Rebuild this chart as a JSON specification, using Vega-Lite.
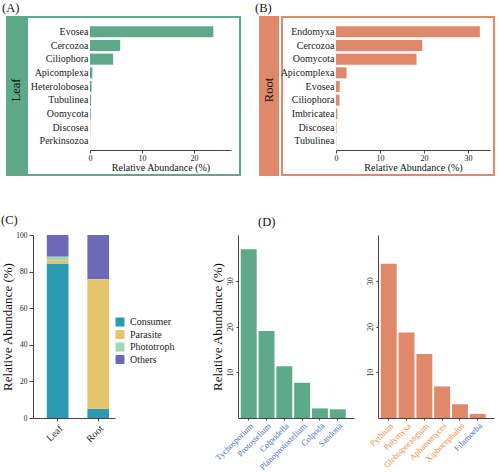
{
  "$schema": "https://vega.github.io/schema/vega-lite/v6.json",
  "padding": {"left": 1, "top": 1, "right": 0, "bottom": 0},
  "config": {
    "font": "Liberation Serif",
    "view": {"stroke": null},
    "axis": {"labelFont": "Liberation Serif", "titleFont": "Liberation Serif", "domainColor": "#444444", "tickColor": "#444444", "labelColor": "#222222", "titleColor": "#111111", "grid": false, "titleFontWeight": "normal", "labelFlush": false},
    "legend": {"labelFont": "Liberation Serif", "titleFont": "Liberation Serif"},
    "title": {"font": "Liberation Serif", "fontWeight": "normal", "fontSize": 12.5, "anchor": "start", "color": "#111111", "frame": "group"}
  },
  "datasets": {
    "phylaLeaf": [
      {"phylum": "Evosea", "abundance": 23.7},
      {"phylum": "Cercozoa", "abundance": 5.8},
      {"phylum": "Ciliophora", "abundance": 4.45},
      {"phylum": "Apicomplexa", "abundance": 0.45},
      {"phylum": "Heterolobosea", "abundance": 0.3},
      {"phylum": "Tubulinea", "abundance": 0.2},
      {"phylum": "Oomycota", "abundance": 0.15},
      {"phylum": "Discosea", "abundance": 0.05},
      {"phylum": "Perkinsozoa", "abundance": 0.02}
    ],
    "phylaRoot": [
      {"phylum": "Endomyxa", "abundance": 32.7},
      {"phylum": "Cercozoa", "abundance": 19.6},
      {"phylum": "Oomycota", "abundance": 18.3},
      {"phylum": "Apicomplexa", "abundance": 2.4},
      {"phylum": "Evosea", "abundance": 0.85},
      {"phylum": "Ciliophora", "abundance": 0.8},
      {"phylum": "Imbricatea", "abundance": 0.3},
      {"phylum": "Discosea", "abundance": 0.12},
      {"phylum": "Tubulinea", "abundance": 0.06}
    ],
    "guild": [
      {"tissue": "Leaf", "group": "Consumer", "rank": 1, "abundance": 84.2},
      {"tissue": "Leaf", "group": "Parasite", "rank": 2, "abundance": 2.0},
      {"tissue": "Leaf", "group": "Phototroph", "rank": 3, "abundance": 2.1},
      {"tissue": "Leaf", "group": "Others", "rank": 4, "abundance": 11.7},
      {"tissue": "Root", "group": "Consumer", "rank": 1, "abundance": 5.1},
      {"tissue": "Root", "group": "Parasite", "rank": 2, "abundance": 70.7},
      {"tissue": "Root", "group": "Phototroph", "rank": 3, "abundance": 0.2},
      {"tissue": "Root", "group": "Others", "rank": 4, "abundance": 24.0}
    ],
    "genusLeaf": [
      {"genus": "Tychosporium", "abundance": 36.9},
      {"genus": "Protostelium", "abundance": 19.0},
      {"genus": "Colpodella", "abundance": 11.3},
      {"genus": "Planoprotostelium", "abundance": 7.7},
      {"genus": "Colpoda", "abundance": 2.1},
      {"genus": "Sandona", "abundance": 1.9}
    ],
    "genusRoot": [
      {"genus": "Pythium", "abundance": 33.7},
      {"genus": "Polymyxa", "abundance": 18.7},
      {"genus": "Globisporangium", "abundance": 14.0},
      {"genus": "Aphanomyces", "abundance": 6.9},
      {"genus": "Xiphocephalus", "abundance": 3.0},
      {"genus": "Filamoeba", "abundance": 0.9}
    ]
  },
  "spacing": 37,
  "resolve": {"legend": {"color": "independent"}},
  "vconcat": [
    {
      "spacing": 14,
      "hconcat": [
        {
          "title": {"text": "(A)", "dx": -5, "offset": 2},
          "spacing": 0,
          "hconcat": [
            {
              "width": 18, "height": 158,
              "view": {"fill": "#5DA98A", "stroke": "#5DA98A", "strokeWidth": 2},
              "data": {"values": [{"panel": "Leaf"}]},
              "mark": {"type": "text", "angle": 270, "fontSize": 12.5, "dx": 6, "color": "#111111"},
              "encoding": {"text": {"field": "panel"}}
            },
            {
              "width": 213, "height": 158,
              "view": {"stroke": "#5DA98A", "strokeWidth": 2},
              "data": {"name": "phylaLeaf"},
              "mark": {"type": "bar", "color": "#5DA98A"},
              "encoding": {
                "y": {"field": "phylum", "type": "nominal", "sort": null,
                      "scale": {"range": [8, 131], "paddingInner": 0.19, "paddingOuter": 0.095},
                      "axis": {"title": null, "offset": -63, "domain": false, "ticks": false, "labelFontSize": 10, "labelPadding": 2}},
                "x": {"field": "abundance", "type": "quantitative",
                      "scale": {"domain": [0, 27.1], "range": [63, 204], "nice": false},
                      "axis": {"values": [0, 10, 20], "title": "Relative Abundance (%)", "offset": -25, "tickSize": 3, "labelFontSize": 8, "labelPadding": 1, "titleFontSize": 10, "titlePadding": 0}}
              }
            }
          ]
        },
        {
          "title": {"text": "(B)", "dx": -5, "offset": 2},
          "spacing": 0,
          "hconcat": [
            {
              "width": 18, "height": 158,
              "view": {"fill": "#E0896A", "stroke": "#E0896A", "strokeWidth": 2},
              "data": {"values": [{"panel": "Root"}]},
              "mark": {"type": "text", "angle": 270, "fontSize": 12.5, "dx": 6, "color": "#111111"},
              "encoding": {"text": {"field": "panel"}}
            },
            {
              "width": 212, "height": 158,
              "view": {"stroke": "#E0896A", "strokeWidth": 2},
              "data": {"name": "phylaRoot"},
              "mark": {"type": "bar", "color": "#E0896A"},
              "encoding": {
                "y": {"field": "phylum", "type": "nominal", "sort": null,
                      "scale": {"range": [8, 131], "paddingInner": 0.19, "paddingOuter": 0.095},
                      "axis": {"title": null, "offset": -54, "domain": false, "ticks": false, "labelFontSize": 10, "labelPadding": 2}},
                "x": {"field": "abundance", "type": "quantitative",
                      "scale": {"domain": [0, 35], "range": [54, 208], "nice": false},
                      "axis": {"values": [0, 10, 20, 30], "title": "Relative Abundance (%)", "offset": -25, "tickSize": 3, "labelFontSize": 8, "labelPadding": 1, "titleFontSize": 10, "titlePadding": 0}}
              }
            }
          ]
        }
      ]
    },
    {
      "spacing": 36,
      "resolve": {"legend": {"color": "independent"}},
      "hconcat": [
        {
          "title": {"text": "(C)", "dx": -6, "offset": 5},
          "spacing": -7,
          "resolve": {"legend": {"color": "independent"}},
          "hconcat": [
            {
              "width": 1, "height": 1,
              "data": {"values": []},
              "mark": {"type": "text"},
              "encoding": {}
            },
            {
              "width": 82, "height": 183,
              "data": {"name": "guild"},
              "mark": {"type": "bar"},
              "encoding": {
                "x": {"field": "tissue", "type": "nominal",
                      "scale": {"paddingInner": 0.465, "paddingOuter": 0.243, "align": 0.7},
                      "axis": {"title": null, "labelAngle": -45, "labelAlign": "right", "labelBaseline": "top", "labelFontSize": 10, "tickSize": 3}},
                "y": {"field": "abundance", "type": "quantitative", "stack": "zero",
                      "scale": {"domain": [0, 100], "nice": false},
                      "axis": {"values": [0, 20, 40, 60, 80, 100], "title": "Relative Abundance (%)", "titleFontSize": 13, "labelFontSize": 7.5, "tickSize": 4, "labelPadding": 2, "titlePadding": 1}},
                "color": {"field": "group", "type": "nominal",
                          "scale": {"domain": ["Consumer", "Parasite", "Phototroph", "Others"], "range": ["#2A9BB0", "#E3C46A", "#A2D4B8", "#6C6AB8"]},
                          "legend": {"title": null, "orient": "none", "legendX": 82, "legendY": 82, "symbolType": "square", "symbolSize": 81, "symbolStrokeWidth": 0, "labelFontSize": 10, "labelOffset": 5, "rowPadding": 2.5, "padding": 0, "labelColor": "#222222"}},
                "order": {"field": "rank", "type": "quantitative", "sort": "ascending"}
              }
            }
          ]
        },
        {
          "title": {"text": "(D)", "dx": 20, "offset": 7},
          "spacing": 12,
          "hconcat": [
            {
              "width": 116, "height": 183,
              "data": {"name": "genusLeaf"},
              "mark": {"type": "bar", "color": "#5DA98A"},
              "encoding": {
                "x": {"field": "genus", "type": "nominal", "sort": null,
                      "scale": {"paddingInner": 0.105, "paddingOuter": 0.31, "align": 0.25},
                      "axis": {"title": null, "labelAngle": -45, "labelAlign": "right", "labelBaseline": "top", "labelFontSize": 8.5, "labelPadding": 1, "labelColor": "#4A74BF", "tickSize": 2}},
                "y": {"field": "abundance", "type": "quantitative",
                      "scale": {"domain": [0, 40], "nice": false},
                      "axis": {"values": [10, 20, 30], "title": "Relative Abundance (%)", "titleFontSize": 13, "labelFontSize": 8, "labelAngle": -90, "labelAlign": "center", "labelBaseline": "bottom", "tickSize": 2, "titlePadding": 2}}
              }
            },
            {
              "width": 116, "height": 183,
              "data": {"name": "genusRoot"},
              "mark": {"type": "bar", "color": "#E0896A"},
              "encoding": {
                "x": {"field": "genus", "type": "nominal", "sort": null,
                      "scale": {"paddingInner": 0.105, "paddingOuter": 0.31, "align": 0.25},
                      "axis": {"title": null, "labelAngle": -45, "labelAlign": "right", "labelBaseline": "top", "labelFontSize": 8.5, "labelPadding": 1,
                               "labelColor": {"condition": {"test": "datum.value === 'Filamoeba'", "value": "#4A74BF"}, "value": "#EA9045"}, "tickSize": 2}},
                "y": {"field": "abundance", "type": "quantitative",
                      "scale": {"domain": [0, 40], "nice": false},
                      "axis": {"values": [10, 20, 30], "title": null, "labelFontSize": 8, "labelAngle": -90, "labelAlign": "center", "labelBaseline": "bottom", "tickSize": 2}}
              }
            }
          ]
        }
      ]
    }
  ]
}
